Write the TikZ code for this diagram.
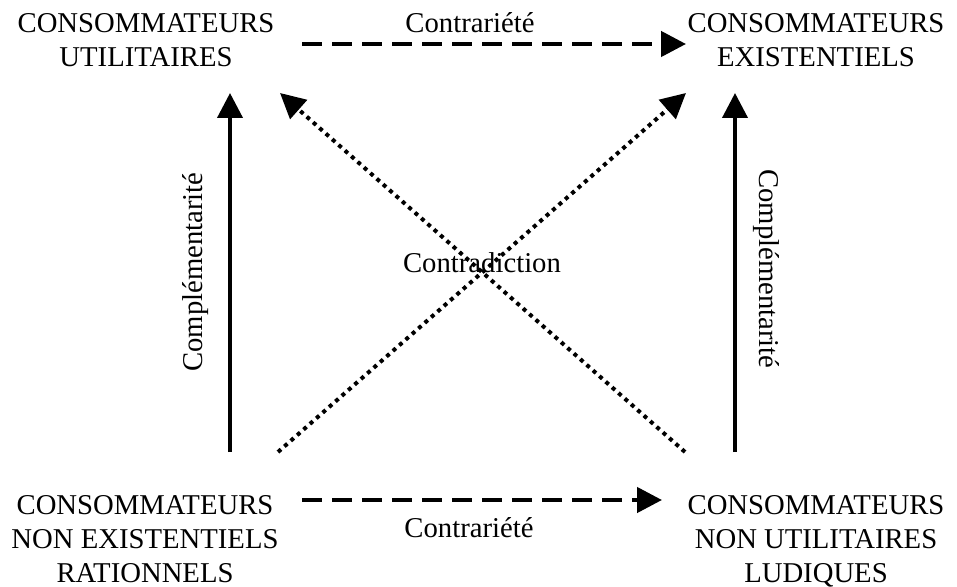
\documentclass[tikz,border=0pt]{standalone}
\usepackage{fontspec}
\setmainfont{Liberation Serif}
\usetikzlibrary{arrows.meta}

\begin{document}
\begin{tikzpicture}[x=0.5pt, y=-0.5pt,
  every node/.style={inner sep=0pt, font=\fontsize{14.35}{17}\selectfont},
  pole/.style={align=center, anchor=north},
  rel/.style={anchor=base},
  tip/.style={-{Triangle[length=12.5pt, width=12.5pt]}},
  contrariete/.style={tip, line width=2.25pt, dash pattern=on 10pt off 5pt},
  complement/.style={tip, line width=2pt},
  contradiction/.style={tip, line width=2pt, dash pattern=on 2pt off 2.25pt}]
\useasboundingbox (0,0) rectangle (957,587);
%poles
\node[pole] (util) at (146,13.6) {CONSOMMATEURS\\UTILITAIRES};
\node[pole] (exist) at (816,13.6) {CONSOMMATEURS\\EXISTENTIELS};
\node[pole] (rationnel) at (145,494.6) {CONSOMMATEURS\\NON EXISTENTIELS\\RATIONNELS};
\node[pole] (ludique) at (816,494.6) {CONSOMMATEURS\\NON UTILITAIRES\\LUDIQUES};
%arrow ends
\coordinate (ctA) at (302,44);
\coordinate (ctB) at (686,44);
\coordinate (cbA) at (302,500);
\coordinate (cbB) at (662,500);
\coordinate (clA) at (230,452);
\coordinate (clB) at (230,93);
\coordinate (crA) at (735,452);
\coordinate (crB) at (735,93);
\coordinate (dgA) at (278,452);
\coordinate (dgB) at (686,93);
\coordinate (ddA) at (685,452);
\coordinate (ddB) at (280,93);
%relations
\draw[contrariete] (ctA) -- (ctB);
\draw[contrariete] (cbA) -- (cbB);
\draw[complement] (clA) -- (clB);
\draw[complement] (crA) -- (crB);
\draw[contradiction] (dgA) -- (dgB);
\draw[contradiction] (ddA) -- (ddB);
%labels
\node[rel] (lct) at (470,33) {Contrariété};
\node[rel] (lcb) at (469,537) {Contrariété};
\node[rel] (lcd) at (482,273) {Contradiction};
\node[rotate=90] (lcl) at (196,272) {Complémentarité};
\node[rotate=-90] (lcr) at (766,269) {Complémentarité};
\end{tikzpicture}
\end{document}
